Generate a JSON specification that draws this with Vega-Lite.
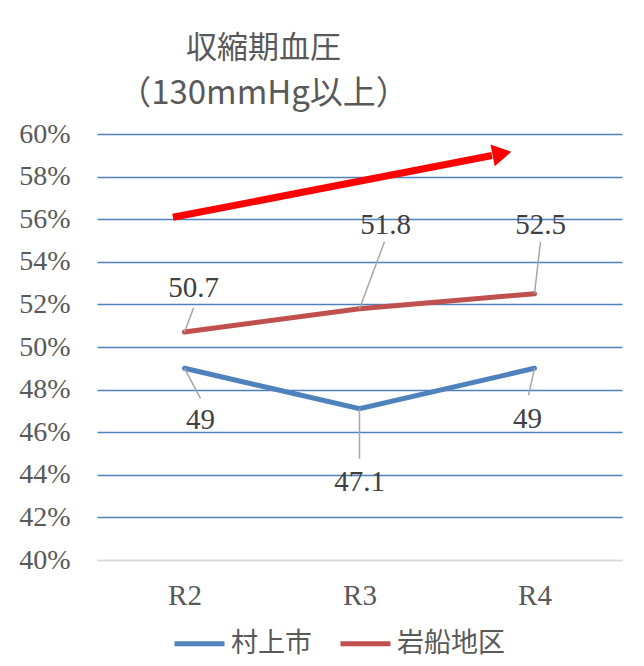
{
  "$schema": "https://vega.github.io/schema/vega-lite/v6.json",
  "width": 525,
  "height": 426,
  "autosize": {"type": "none"},
  "padding": {"left": 97, "top": 134, "right": 22, "bottom": 106},
  "background": "white",
  "config": {"view": {"stroke": null}},
  "title": {
    "text": "収縮期血圧",
    "subtitle": "（130mmHg以上）",
    "font": "Noto Sans CJK JP",
    "fontSize": 31,
    "fontWeight": "normal",
    "color": "#595959",
    "subtitleFont": "Noto Sans CJK JP",
    "subtitleFontSize": 33,
    "subtitleFontWeight": "normal",
    "subtitleColor": "#595959",
    "subtitlePadding": 13,
    "anchor": "middle",
    "dx": -96,
    "offset": 8
  },
  "datasets": {
    "series": [
      {"year": "R2", "x": 1, "series": "村上市", "y": 49},
      {"year": "R3", "x": 2, "series": "村上市", "y": 47.1},
      {"year": "R4", "x": 3, "series": "村上市", "y": 49},
      {"year": "R2", "x": 1, "series": "岩船地区", "y": 50.7},
      {"year": "R3", "x": 2, "series": "岩船地区", "y": 51.8},
      {"year": "R4", "x": 3, "series": "岩船地区", "y": 52.5}
    ],
    "arrow": [{"x": 0.934, "y": 56.09}, {"x": 2.757, "y": 58.99}],
    "head": [{"x": 2.814, "y": 59.08}]
  },
  "encoding": {
    "x": {
      "field": "x",
      "type": "quantitative",
      "scale": {"domain": [0.5, 3.5], "nice": false, "zero": false},
      "axis": {
        "values": [1, 2, 3],
        "labelExpr": "'R' + (datum.value + 1)",
        "title": null,
        "grid": false,
        "ticks": false,
        "domainColor": "#d9d9d9",
        "domainWidth": 1.5,
        "labelPadding": 21,
        "labelFont": "Liberation Serif",
        "labelFontSize": 29,
        "labelColor": "#595959",
        "labelBaseline": "top",
        "labelFlush": false
      }
    },
    "y": {
      "field": "y",
      "type": "quantitative",
      "scale": {"domain": [40, 60], "nice": false, "zero": false},
      "axis": {
        "values": [40, 42, 44, 46, 48, 50, 52, 54, 56, 58, 60],
        "labelExpr": "datum.value + '%'",
        "title": null,
        "domain": false,
        "ticks": false,
        "labelPadding": 27,
        "labelFont": "Liberation Serif",
        "labelFontSize": 28,
        "labelColor": "#595959",
        "labelFlush": false,
        "gridColor": {"condition": {"test": "datum.value === 40", "value": "#d9d9d9"}, "value": "#4f81bd"},
        "gridWidth": 1.5
      }
    }
  },
  "layer": [
    {
      "data": {"name": "arrow"},
      "mark": {"type": "line", "color": "#ff0000", "strokeWidth": 7, "strokeCap": "butt"},
      "encoding": {}
    },
    {
      "data": {"name": "head"},
      "mark": {"type": "point", "shape": "triangle-right", "size": 484, "filled": true, "color": "#ff0000", "opacity": 1, "angle": -11},
      "encoding": {}
    },
    {
      "data": {"name": "series"},
      "mark": {"type": "line", "strokeWidth": 5, "strokeCap": "round", "strokeJoin": "miter"},
      "encoding": {
        "color": {
          "field": "series",
          "type": "nominal",
          "scale": {"domain": ["村上市", "岩船地区"], "range": ["#4f81bd", "#c0504d"]},
          "legend": {
            "orient": "none",
            "legendX": 75,
            "legendY": 482,
            "direction": "horizontal",
            "title": null,
            "symbolType": "stroke",
            "symbolSize": 2500,
            "symbolStrokeWidth": 5,
            "labelFont": "Noto Sans CJK JP",
            "labelFontSize": 27,
            "labelColor": "#595959",
            "labelOffset": 4,
            "columnPadding": 18
          }
        }
      }
    },
    {
      "data": {"name": "series"},
      "transform": [{"filter": "datum.series === '岩船地区' && datum.x === 1"}],
      "layer": [
        {"mark": {"type": "rule", "x2Offset": 9, "y2Offset": -24, "color": "#a6a6a6", "strokeWidth": 1.5}, "encoding": {"x2": {"field": "x"}, "y2": {"field": "y"}}},
        {"mark": {"type": "text", "dx": 9, "dy": -44, "font": "Liberation Serif", "fontSize": 29, "color": "#404040", "baseline": "middle", "align": "center"}, "encoding": {"text": {"field": "y", "type": "quantitative", "format": "~g"}}}
      ]
    },
    {
      "data": {"name": "series"},
      "transform": [{"filter": "datum.series === '岩船地区' && datum.x === 2"}],
      "layer": [
        {"mark": {"type": "rule", "x2Offset": 25, "y2Offset": -67, "color": "#a6a6a6", "strokeWidth": 1.5}, "encoding": {"x2": {"field": "x"}, "y2": {"field": "y"}}},
        {"mark": {"type": "text", "dx": 26, "dy": -84, "font": "Liberation Serif", "fontSize": 29, "color": "#404040", "baseline": "middle", "align": "center"}, "encoding": {"text": {"field": "y", "type": "quantitative", "format": "~g"}}}
      ]
    },
    {
      "data": {"name": "series"},
      "transform": [{"filter": "datum.series === '岩船地区' && datum.x === 3"}],
      "layer": [
        {"mark": {"type": "rule", "x2Offset": 6, "y2Offset": -52, "color": "#a6a6a6", "strokeWidth": 1.5}, "encoding": {"x2": {"field": "x"}, "y2": {"field": "y"}}},
        {"mark": {"type": "text", "dx": 6, "dy": -69, "font": "Liberation Serif", "fontSize": 29, "color": "#404040", "baseline": "middle", "align": "center"}, "encoding": {"text": {"field": "y", "type": "quantitative", "format": "~g"}}}
      ]
    },
    {
      "data": {"name": "series"},
      "transform": [{"filter": "datum.series === '村上市' && datum.x === 1"}],
      "layer": [
        {"mark": {"type": "rule", "x2Offset": 16, "y2Offset": 30, "color": "#a6a6a6", "strokeWidth": 1.5}, "encoding": {"x2": {"field": "x"}, "y2": {"field": "y"}}},
        {"mark": {"type": "text", "dx": 16, "dy": 52, "font": "Liberation Serif", "fontSize": 29, "color": "#404040", "baseline": "middle", "align": "center"}, "encoding": {"text": {"field": "y", "type": "quantitative", "format": "~g"}}}
      ]
    },
    {
      "data": {"name": "series"},
      "transform": [{"filter": "datum.series === '村上市' && datum.x === 2"}],
      "layer": [
        {"mark": {"type": "rule", "x2Offset": 0, "y2Offset": 50, "color": "#a6a6a6", "strokeWidth": 1.5}, "encoding": {"x2": {"field": "x"}, "y2": {"field": "y"}}},
        {"mark": {"type": "text", "dx": 0, "dy": 73, "font": "Liberation Serif", "fontSize": 29, "color": "#404040", "baseline": "middle", "align": "center"}, "encoding": {"text": {"field": "y", "type": "quantitative", "format": "~g"}}}
      ]
    },
    {
      "data": {"name": "series"},
      "transform": [{"filter": "datum.series === '村上市' && datum.x === 3"}],
      "layer": [
        {"mark": {"type": "rule", "x2Offset": -6, "y2Offset": 27, "color": "#a6a6a6", "strokeWidth": 1.5}, "encoding": {"x2": {"field": "x"}, "y2": {"field": "y"}}},
        {"mark": {"type": "text", "dx": -7, "dy": 51, "font": "Liberation Serif", "fontSize": 29, "color": "#404040", "baseline": "middle", "align": "center"}, "encoding": {"text": {"field": "y", "type": "quantitative", "format": "~g"}}}
      ]
    }
  ]
}
